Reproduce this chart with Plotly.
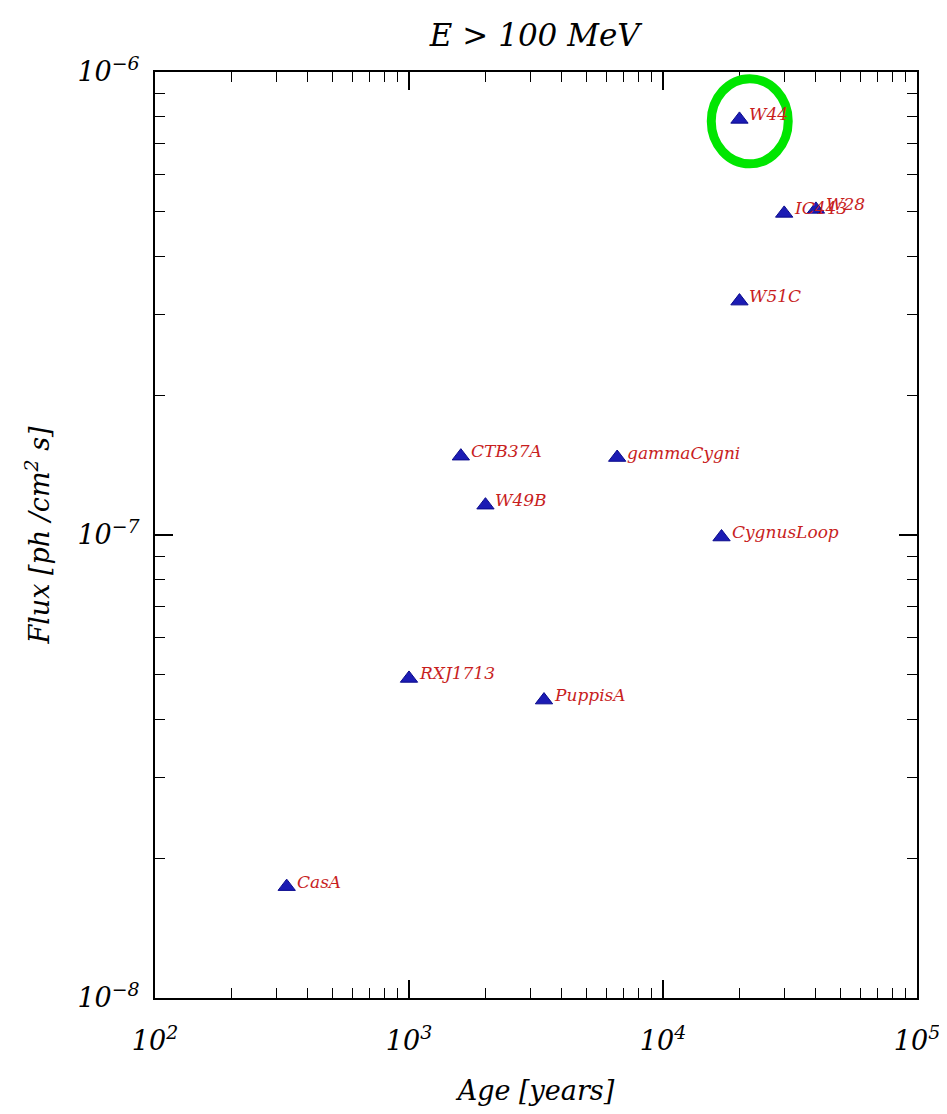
import math
import plotly.graph_objects as go

names = ["W44", "IC443", "W28", "W51C", "CTB37A", "gammaCygni", "W49B",
         "CygnusLoop", "RXJ1713", "PuppisA", "CasA"]
age_years = [20000, 30000, 40000, 20000, 1600, 6600, 2000, 17000, 1000, 3400, 330]
flux = [7.9e-7, 4.95e-7, 5.05e-7, 3.2e-7, 1.48e-7, 1.47e-7, 1.16e-7,
        9.9e-8, 4.9e-8, 4.4e-8, 1.74e-8]

x_tickvals = [1e2, 1e3, 1e4, 1e5]
x_ticktext = ["10<sup>2</sup>", "10<sup>3</sup>", "10<sup>4</sup>", "10<sup>5</sup>"]
y_tickvals = [1e-8, 1e-7, 1e-6]
y_ticktext = ["10<sup>−8</sup>", "10<sup>−7</sup>", "10<sup>−6</sup>"]

serif = "DejaVu Serif"

fig = go.Figure()
fig.add_trace(go.Scatter(
    x=age_years, y=flux, mode="markers",
    marker=dict(symbol="triangle-up", size=15, color="#1c1cb4",
                line=dict(color="#0a0a8c", width=1)),
    hoverinfo="text", text=names, showlegend=False,
))

for n, a, f in zip(names, age_years, flux):
    fig.add_annotation(
        x=math.log10(a), y=math.log10(f), text=n, showarrow=False,
        xanchor="left", yanchor="middle", xshift=8, yshift=5,
        font=dict(family=serif, size=17, color="#c81e1e", style="italic"),
    )

# green highlight ellipse around the W44 point
xmin, xmax = 2, 5
ymin, ymax = -8, -6
px = (math.log10(age_years[0]) - xmin) / (xmax - xmin)
py = (math.log10(flux[0]) - ymin) / (ymax - ymin)
fig.add_shape(type="circle", xref="paper", yref="paper",
              x0=px - 0.037, x1=px + 0.064, y0=py - 0.048, y1=py + 0.044,
              line=dict(color="#00e600", width=9), layer="above")

axis_common = dict(
    type="log", showline=True, linecolor="black", linewidth=2, mirror="ticks",
    ticks="inside", ticklen=18, tickwidth=1.5, tickcolor="black",
    showgrid=False, zeroline=False, tickmode="array", automargin=False,
    tickfont=dict(family=serif, size=27, color="black", style="italic"),
    minor=dict(ticks="inside", ticklen=10, tickwidth=1, tickcolor="black",
               dtick="D1", showgrid=False),
)

fig.update_xaxes(
    **axis_common, range=[2, 5], tickvals=x_tickvals, ticktext=x_ticktext,
    ticklabelstandoff=18,
    title=dict(text="Age [years]", standoff=26,
               font=dict(family=serif, size=27, color="black", style="italic")),
)
fig.update_yaxes(
    **axis_common, range=[-8, -6], tickvals=y_tickvals, ticktext=y_ticktext,
    ticklabelstandoff=8,
    title=dict(text="Flux [ph /cm<sup>2</sup> s]", standoff=20,
               font=dict(family=serif, size=27, color="black", style="italic")),
)

fig.update_layout(
    width=939, height=1106,
    margin=dict(l=147, r=30, t=64, b=116),
    paper_bgcolor="white", plot_bgcolor="white",
    title=dict(text="E > 100 MeV", x=0.561, xanchor="center", y=0.985, yanchor="top",
               font=dict(family=serif, size=31, color="black", style="italic")),
)

fig.write_html("out.html")
